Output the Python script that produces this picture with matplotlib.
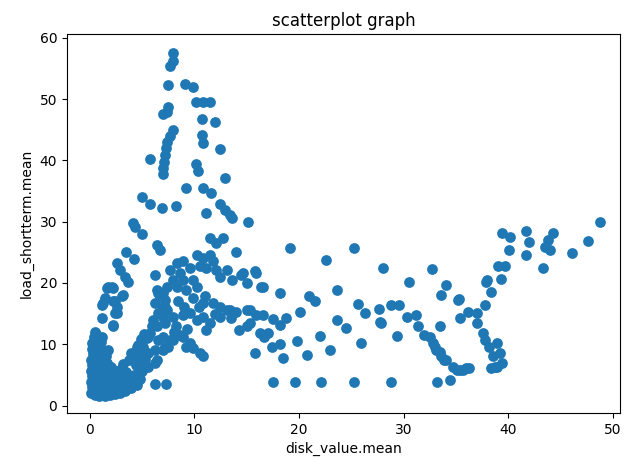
import matplotlib
matplotlib.use("Agg")
import matplotlib.pyplot as plt
import numpy as np

# --- data (disk_value.mean, load_shortterm.mean) ---
peak_x = [7.96, 7.96, 7.65, 7.49, 9.08, 9.88, 10.13, 10.83, 11.47, 7.49, 7.0, 7.33, 10.68, 11.95,
          7.96, 7.65, 7.33, 10.68, 10.83, 12.43, 7.3, 7.17, 7.07, 7.0, 6.95, 5.74, 10.13, 10.36,
          12.9, 9.18, 10.83, 11.63, 4.94, 5.74, 6.85, 8.22, 12.43, 12.9, 13.38, 13.55, 11.15, 15.1, 4.14]
peak_y = [57.6, 56.2, 55.4, 52.3, 52.5, 51.9, 49.6, 49.5, 49.5, 48.7, 47.5, 47.9, 46.8, 46.2,
          44.9, 43.9, 43.0, 44.2, 42.8, 41.9, 42.0, 40.9, 39.8, 38.8, 37.7, 40.2, 39.4, 38.2,
          37.1, 35.5, 35.5, 34.7, 34.1, 32.8, 32.3, 32.5, 32.9, 31.9, 31.1, 30.6, 31.4, 29.9, 29.8]

arm_x = [4.3, 4.94, 6.38, 6.69, 3.5, 4.2, 2.55, 2.87, 3.35, 3.66, 1.6, 2.07, 3.03, 1.12, 2.55,
         1.12, 2.23, 1.75, 2.23, 1.43, 3.18, 2.23, 2.55, 1.27, 2.39, 2.39, 2.23]
arm_y = [29.2, 28.0, 26.2, 25.4, 25.0, 23.9, 23.2, 22.1, 21.0, 20.2, 19.1, 19.4, 17.8, 16.4, 15.1,
         14.2, 12.9, 19.4, 19.1, 17.5, 18.1, 17.0, 16.1, 16.7, 17.0, 15.1, 13.2]

mid_x = [11.47, 12.1, 12.75, 14.0, 10.2, 10.83, 11.47, 11.8, 10.5, 11.15, 12.1, 13.07, 13.55, 14.5,
         15.0, 15.9, 16.4, 12.4, 8.3, 8.9, 7.65, 8.6, 9.56, 7.96, 8.9, 9.9, 7.33, 8.3, 9.24, 10.2,
         7.0, 8.44, 9.88, 10.83, 11.8, 12.43, 13.07, 14.0, 15.0, 15.9, 7.33, 7.0, 7.96, 8.9, 9.56,
         10.2, 10.83, 11.47, 11.15, 14.3, 15.3, 16.25, 7.0, 7.96, 8.9, 9.56, 9.88, 10.5, 10.83, 7.49,
         15.77, 16.6, 14.65, 15.77, 6.2, 6.38, 6.69, 7.0, 6.05, 6.38, 5.74, 5.42, 5.1, 4.46, 4.78,
         13.38, 12.43, 15.0, 9.24, 8.6, 7.65, 7.0, 6.38, 5.1, 4.78, 4.14, 6.2, 7.3,
         6.53, 7.17, 5.9, 7.17, 5.58, 6.53, 6.2, 7.17, 4.3, 4.94, 5.58, 6.2, 4.62,
         6.53, 7.17, 6.2, 7.17, 8.2, 9.3, 10.4, 12.0, 13.5, 9.0, 11.0, 8.0]
mid_y = [27.3, 26.5, 27.3, 25.1, 24.6, 24.0, 24.6, 23.5, 22.7, 22.4, 22.1, 22.1, 20.5, 21.3,
         20.0, 21.6, 19.4, 21.0, 23.2, 23.5, 22.1, 21.6, 22.4, 20.5, 20.5, 20.5, 19.4, 19.4, 18.9, 19.4,
         18.3, 17.0, 17.5, 16.7, 16.7, 16.1, 15.6, 15.3, 15.6, 14.8, 15.6, 14.5, 14.5, 14.8, 15.1,
         14.0, 14.5, 13.4, 12.3, 12.3, 13.4, 11.8, 11.2, 10.7, 11.2, 10.2, 9.35, 8.5, 8.0, 9.6,
         8.5, 14.8, 21.6, 21.9, 21.3, 18.9, 17.8, 16.1, 14.0, 12.9, 11.8, 11.0, 9.6, 9.6, 8.5,
         15.6, 14.5, 12.9, 9.6, 11.5, 10.7, 9.1, 7.4, 6.3, 5.3, 4.2, 3.5, 3.5,
         15.1, 15.6, 12.9, 13.4, 11.2, 10.7, 9.1, 9.6, 8.0, 6.9, 6.3, 6.9, 5.3,
         18.3, 17.2, 16.7, 16.1, 12.9, 12.5, 16.0, 15.0, 14.2, 16.0, 17.8, 12.0]

right_x = [19.1, 25.3, 22.56, 28.0, 32.7, 30.5, 34.1, 33.6, 16.57, 18.16, 21.0, 21.5, 23.6, 15.3,
           20.1, 25.65, 26.3, 27.66, 28.8, 29.6, 30.3, 31.2, 31.4, 32.0, 32.8, 33.5, 34.1, 17.5,
           18.16, 18.8, 23.6, 24.5, 27.8, 33.5, 16.7, 17.05, 17.4, 18.16, 19.8, 22.0, 25.9, 29.4,
           18.5, 20.8, 23.0, 17.5, 19.6, 22.15, 25.3, 28.8, 33.2, 34.4,
           39.0, 37.9, 38.4, 35.2, 27.7, 33.1, 33.6, 34.7, 35.4, 36.0, 35.4, 36.2, 37.0, 37.0, 37.8,
           37.6, 37.8, 38.2, 38.6, 38.7]
right_y = [25.7, 25.7, 23.7, 22.4, 22.2, 20.2, 19.7, 18.1, 19.3, 18.4, 17.8, 17.1, 18.8, 15.6,
           15.3, 16.6, 15.1, 15.7, 16.4, 16.4, 14.5, 14.8, 12.9, 11.5, 10.2, 8.8, 7.4, 14.1,
           13.2, 14.2, 14.0, 12.6, 13.4, 12.9, 11.2, 11.8, 9.6, 10.0, 10.5, 11.4, 10.2, 11.4,
           7.7, 8.25, 9.1, 3.8, 3.8, 3.8, 3.8, 3.8, 3.9, 4.2,
           22.7, 20.2, 18.6, 17.2, 13.7, 9.1, 8.0, 6.3, 5.8, 6.1, 14.2, 15.3, 15.1, 13.4, 16.4,
           11.8, 10.7, 9.6, 8.0, 6.3]

far_x = [48.75, 47.6, 46.1, 39.4, 40.2, 41.75, 42.0, 40.1, 41.7, 44.3, 43.8, 43.5, 44.0, 43.3,
         39.7, 39.3, 38.0, 35.3, 32.5, 33.0, 33.9, 35.1, 35.7, 36.3, 38.9, 39.2, 39.4, 38.9, 38.4]
far_y = [29.9, 26.8, 24.9, 28.1, 27.5, 28.4, 26.6, 25.3, 24.6, 28.1, 27.0, 25.9, 25.4, 22.4,
         22.7, 20.6, 20.4, 17.4, 11.2, 9.6, 7.4, 5.8, 5.8, 6.1, 10.2, 8.5, 6.9, 6.3, 6.1]

dense_x = [0.15, 0.2, 0.1, 0.25, 0.15, 0.2, 0.1, 0.3, 0.2, 0.25, 0.35, 0.45, 0.6,
           0.5, 0.55, 0.45, 0.6, 0.5, 0.65, 0.55, 0.6, 0.5, 0.7, 0.65,
           0.9, 1.0, 0.85, 1.05, 0.95, 1.0, 0.9, 1.1, 1.0, 0.95, 1.1, 1.2,
           1.4, 1.5, 1.35, 1.5, 1.6, 1.45, 1.6, 1.55, 1.7,
           1.9, 2.0, 1.85, 2.05, 2.1, 2.0,
           2.4, 2.5, 2.35, 2.6, 2.5,
           2.9, 3.0, 2.85, 3.1, 3.0, 3.2,
           3.4, 3.5, 3.6, 3.5, 3.7, 3.9,
           3.9, 4.1, 4.2, 4.4, 4.6, 4.9, 5.2,
           4.5, 4.8, 5.0, 5.3, 5.6]
dense_y = [2.1, 3.0, 3.9, 4.8, 5.7, 6.6, 7.5, 8.4, 9.3, 10.2, 11.1, 12.0, 11.6,
           1.7, 2.6, 3.5, 4.3, 5.2, 6.1, 7.0, 7.9, 8.8, 9.7, 10.6,
           1.5, 2.3, 3.1, 4.0, 4.9, 5.8, 6.7, 7.6, 8.5, 9.4, 10.3, 11.2,
           1.6, 2.5, 3.4, 4.3, 5.2, 6.1, 7.0, 8.0, 9.0,
           1.7, 2.6, 3.5, 4.4, 5.4, 6.3,
           1.9, 2.8, 3.7, 4.6, 5.6,
           2.1, 3.0, 3.9, 4.8, 5.9, 6.8,
           2.4, 3.3, 4.4, 5.4, 7.4, 8.6,
           2.9, 3.8, 5.0, 6.6, 9.8, 10.9, 11.6,
           3.4, 4.4, 5.6, 7.6, 8.6]

x = np.concatenate([peak_x, arm_x, mid_x, right_x, far_x, dense_x])
y = np.concatenate([peak_y, arm_y, mid_y, right_y, far_y, dense_y])

fig = plt.figure(figsize=(6.25, 4.74), dpi=100)
ax = fig.add_subplot(111)
fig.subplots_adjust(left=0.107, right=0.992, top=0.928, bottom=0.129)
ax.scatter(x, y, s=60, color="#1f77b4", linewidths=0)
ax.set_xlim(-2.2, 50.7)
ax.set_ylim(-1.2, 60.6)
ax.set_xticks([0, 10, 20, 30, 40, 50])
ax.set_yticks([0, 10, 20, 30, 40, 50, 60])
ax.set_title("scatterplot graph")
ax.set_xlabel("disk_value.mean")
ax.set_ylabel("load_shortterm.mean")
fig.savefig("out.png", dpi=100)
